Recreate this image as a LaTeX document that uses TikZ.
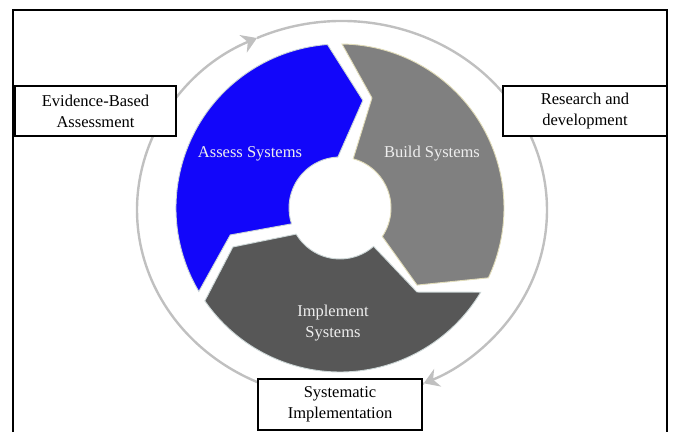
\documentclass[tikz,border=0pt]{standalone}
\usepackage{fontspec}
\setmainfont{Liberation Serif}
\usetikzlibrary{arrows.meta}
\definecolor{assessblue}{RGB}{18,6,250}
\definecolor{buildgray}{RGB}{128,128,128}
\definecolor{implgray}{RGB}{87,87,87}
\definecolor{ringgray}{RGB}{192,192,192}
\definecolor{segedge}{RGB}{205,215,215}
\definecolor{creamedge}{RGB}{225,220,185}
\definecolor{labeltext}{RGB}{238,238,238}

\begin{document}
\begin{tikzpicture}[x=1pt,y=1pt,
  segment/.style={line width=0.9pt, line join=miter},
  seglabel/.style={text=labeltext, font=\fontsize{16.5}{20.5}\selectfont, align=center},
  infobox/.style={draw=black, line width=1.8pt, fill=white,
    font=\fontsize{16.5}{21}\selectfont, align=center, inner sep=0pt,
    minimum height=50pt},
  ring/.style={draw=ringgray, line width=2.4pt},
  ringtip/.style={-{Stealth[length=15pt,width=19pt,inset=5pt]}}
]
\useasboundingbox (0,0) rectangle (673,432);

% outer frame, open at the bottom
\draw[line width=1.8pt] (13,0) -- (13,422) -- (667,422) -- (667,0);

% circulating ring with two arrowheads
\begin{scope}[shift={(342,222)}]
  \draw[ring, ringtip] (180:205 and 189)
    arc[start angle=180, end angle=114.5, x radius=205, y radius=189];
  \draw[ring, ringtip] (114.5:205 and 189)
    arc[start angle=114.5, end angle=-66.5, x radius=205, y radius=189];
  \draw[ring] (-66.5:205 and 189)
    arc[start angle=-66.5, end angle=-180, x radius=205, y radius=189];
\end{scope}

% the three arrow segments of the cycle
\begin{scope}[shift={(340,224)}]
  \path[fill=assessblue, draw=segedge, segment]
    (210.6:164) arc[start angle=210.6, end angle=94.4, radius=164]
    -- (78:110) -- (92.4:51)
    arc[start angle=92.4, end angle=198.1, radius=51]
    -- (193.8:113) -- cycle;
  \path[fill=buildgray, draw=creamedge, segment]
    (89.3:164) arc[start angle=89.3, end angle=-25.2, radius=164]
    -- (-45:109) -- (-34:51)
    arc[start angle=-34, end angle=75, radius=51]
    -- (73.8:114.6) -- cycle;
  \path[fill=implgray, draw=segedge, segment]
    (-30.9:164) arc[start angle=-30.9, end angle=-145.5, radius=164]
    -- (-160:114) -- (-149.2:51)
    arc[start angle=-149.2, end angle=-48.8, radius=51]
    -- (-47.5:114) -- cycle;
\end{scope}

% segment labels
\node[seglabel] (assess) at (250,278) {Assess Systems};
\node[seglabel] (build) at (432,278) {Build Systems};
\node[seglabel] (implement) at (333,109) {Implement\\Systems};

% surrounding boxes
\node[infobox, minimum width=161pt] (evidence) at (95.5,321) {Evidence-Based\\Assessment};
\node[infobox, minimum width=164pt] (research) at (585,321) {Research and\\development};
\node[infobox, minimum width=164pt, minimum height=51pt] (systematic) at (340,27.5) {Systematic\\Implementation};
\end{tikzpicture}
\end{document}
